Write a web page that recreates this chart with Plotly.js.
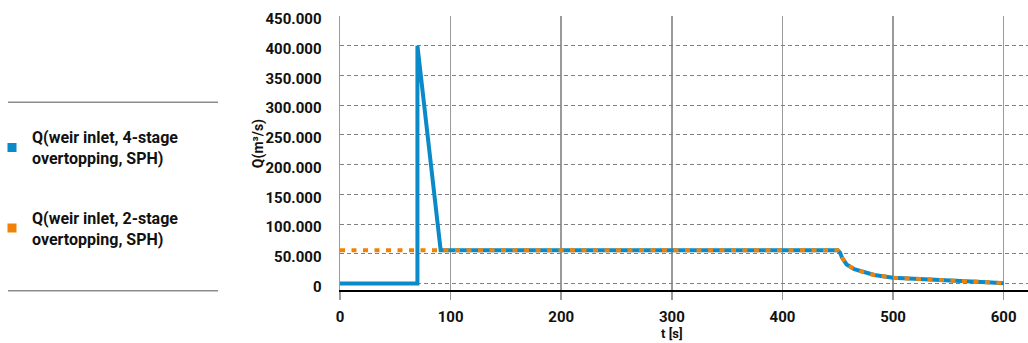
<!DOCTYPE html>
<html><head><meta charset="utf-8">
<script src="https://cdn.plot.ly/plotly-3.0.1.min.js"></script>
<style>html,body{margin:0;padding:0;background:#fff}#chart{width:1028px;height:343px}</style>
</head><body><div id="chart"></div>
<script>
const seriesNames = ["Q(weir inlet, 4-stage<br>overtopping, SPH)", "Q(weir inlet, 2-stage<br>overtopping, SPH)"];
const seriesColors = ["#0a8ac8", "#f0820a"];
const tFourStage = [0, 70, 70, 91, 450, 452, 454, 458, 465, 473, 483, 500, 525, 555, 585, 600];
const qFourStage = [0, 0, 400000, 56000, 56000, 52000, 43000, 32000, 24000, 19000, 14300, 9800, 8000, 5400, 2000, 500];
const tTwoStage = [0, 450, 452, 454, 458, 465, 473, 483, 500, 525, 555, 585, 600];
const qTwoStage = [56000, 56000, 52000, 43000, 32000, 24000, 19000, 14300, 9800, 8000, 5400, 2000, 500];
const xTickVals = [0, 100, 200, 300, 400, 500, 600];
const yTickVals = [0, 50000, 100000, 150000, 200000, 250000, 300000, 350000, 400000, 450000];
const xTitle = "t [s]";
const yTitle = "Q(m³/s)";

const fam = "Roboto, 'DejaVu Sans', sans-serif";
const tickFont = {family: fam, size: 15, color: "#111", weight: 700};
const legendFont = {family: fam, size: 16, color: "#111", weight: 700};
const yTitleFont = {family: fam, size: 14, color: "#111", weight: 700};
const xTitleFont = {family: fam, size: 13, color: "#111", weight: 700};

const traces = [
  {x: tFourStage, y: qFourStage, mode: "lines", showlegend: false,
   line: {color: seriesColors[0], width: 4}},
  {x: tTwoStage, y: qTwoStage, mode: "lines", showlegend: false,
   line: {color: seriesColors[1], width: 4, dash: "5px,6.5px"}},
  {x: [null], y: [null], mode: "markers", name: seriesNames[0], legendgroup: "a",
   marker: {symbol: "square", size: 9, color: seriesColors[0]}},
  {x: [null], y: [null], mode: "markers", name: seriesNames[1], legendgroup: "b",
   marker: {symbol: "square", size: 9, color: seriesColors[1]}}
];

const plotH = 274.3, plotW = 688;
const layout = {
  width: 1028, height: 343,
  margin: {l: 340, r: 0, t: 16, b: 53, autoexpand: false},
  paper_bgcolor: "#fff", plot_bgcolor: "#fff",
  separators: ",.",
  font: tickFont,
  showlegend: true,
  legend: {x: (8 - 16 - 340) / plotW, xanchor: "left", y: (290 - 120) / plotH, yanchor: "top",
           traceorder: "grouped", tracegroupgap: 36, font: legendFont, bgcolor: "rgba(0,0,0,0)"},
  xaxis: {range: [0, 622], tickvals: xTickVals, showgrid: true, gridcolor: "#9a9a9a", gridwidth: 1.5,
          ticks: "outside", ticklen: 8, tickcolor: "#9a9a9a", tickwidth: 1.5, ticklabelstandoff: 4,
          showline: true, linecolor: "#000", linewidth: 2, zeroline: false, tickfont: tickFont},
  yaxis: {range: [-11000, 450000], tickvals: yTickVals, tickformat: ",.0f", showgrid: true,
          gridcolor: "#808080", gridwidth: 1, griddash: "4px,3px",
          showline: true, linecolor: "#9a9a9a", linewidth: 1.5, zeroline: false,
          ticks: "", ticklabelstandoff: 14, ticklabelshift: 3, tickfont: tickFont},
  shapes: [
    {type: "line", xref: "paper", yref: "paper", x0: (8 - 340) / plotW, x1: (218 - 340) / plotW,
     y0: (290 - 102) / plotH, y1: (290 - 102) / plotH, line: {color: "#8c8c8c", width: 1.5}},
    {type: "line", xref: "paper", yref: "paper", x0: (8 - 340) / plotW, x1: (218 - 340) / plotW,
     y0: (290 - 290.7) / plotH, y1: (290 - 290.7) / plotH, line: {color: "#8c8c8c", width: 1.5}}
  ],
  annotations: [
    {text: yTitle, textangle: -90, xref: "paper", yref: "paper", x: (258 - 340) / plotW, xanchor: "center",
     y: (290 - 144) / plotH, yanchor: "middle", showarrow: false, font: yTitleFont},
    {text: xTitle, xref: "x", x: 300, xanchor: "center", yref: "paper", y: (290 - 343) / plotH,
     yanchor: "bottom", showarrow: false, font: xTitleFont}
  ]
};
Plotly.newPlot("chart", traces, layout, {displayModeBar: false, staticPlot: true});
</script></body></html>
